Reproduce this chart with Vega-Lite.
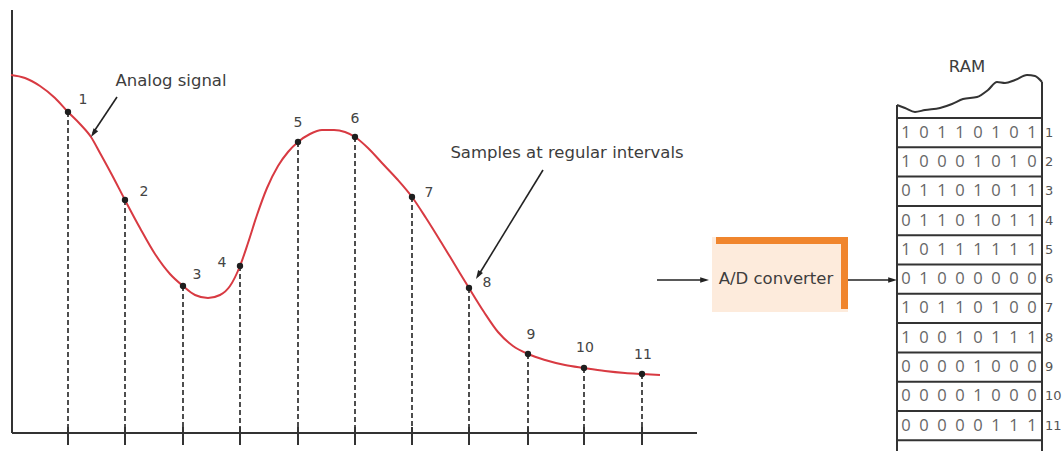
{
  "$schema": "https://vega.github.io/schema/vega-lite/v6.json",
  "width": 1063,
  "height": 451,
  "padding": 0,
  "autosize": {"type": "none"},
  "background": "white",
  "config": {"view": {"stroke": null}},
  "datasets": {
    "curve": [
      {"x":11,"y":75},{"x":25,"y":78},{"x":40,"y":86},{"x":55,"y":98},{"x":68,"y":112},{"x":80,"y":124},{"x":91,"y":137},{"x":100,"y":153},{"x":112,"y":175},{"x":125,"y":200},{"x":140,"y":228},{"x":155,"y":254},{"x":170,"y":274},{"x":183,"y":286},{"x":195,"y":295},{"x":208,"y":298},{"x":220,"y":295},{"x":230,"y":286},{"x":240,"y":266},{"x":248,"y":243},{"x":257,"y":215},{"x":267,"y":188},{"x":278,"y":166},{"x":288,"y":152},{"x":298,"y":142},{"x":310,"y":134},{"x":322,"y":130},{"x":334,"y":130},{"x":345,"y":132},{"x":355,"y":137},{"x":368,"y":148},{"x":382,"y":163},{"x":397,"y":179},{"x":412,"y":197},{"x":426,"y":218},{"x":441,"y":242},{"x":455,"y":265},{"x":469,"y":288},{"x":484,"y":312},{"x":498,"y":332},{"x":513,"y":346},{"x":528,"y":354},{"x":545,"y":360},{"x":565,"y":365},{"x":584,"y":368},{"x":605,"y":371},{"x":625,"y":373},{"x":642,"y":374},{"x":660,"y":375}
    ],
    "samples": [
      {"n":1,"x":68,"y":112},{"n":2,"x":125,"y":200},{"n":3,"x":183,"y":286},{"n":4,"x":240,"y":266},{"n":5,"x":298,"y":142},{"n":6,"x":355,"y":137},{"n":7,"x":412,"y":197},{"n":8,"x":469,"y":288},{"n":9,"x":528,"y":354},{"n":10,"x":584,"y":368},{"n":11,"x":642,"y":374}
    ],
    "sampleLabels": [
      {"t":"1","x":83,"y":100},{"t":"2","x":144,"y":192},{"t":"3","x":197,"y":275},{"t":"4","x":222,"y":263},{"t":"5","x":298,"y":123},{"t":"6","x":355,"y":119},{"t":"7","x":429,"y":193},{"t":"8","x":487,"y":283},{"t":"9","x":531,"y":335},{"t":"10","x":585,"y":348},{"t":"11","x":643,"y":355}
    ],
    "axes": [
      {"x":12,"y":10,"x2":12,"y2":433},
      {"x":12,"y":433,"x2":697,"y2":433}
    ],
    "shafts": [
      {"x":117,"y":97,"x2":93,"y2":133},
      {"x":543,"y":170,"x2":478,"y2":276},
      {"x":657,"y":280,"x2":704,"y2":280},
      {"x":848,"y":280,"x2":892,"y2":280}
    ],
    "heads": [
      {"x":91,"y":137,"a":213.7},
      {"x":476,"y":279,"a":211},
      {"x":709,"y":280,"a":90},
      {"x":897,"y":280,"a":90}
    ],
    "notes": [
      {"t":"Analog signal","x":171,"y":81},
      {"t":"Samples at regular intervals","x":567,"y":153},
      {"t":"A/D converter","x":776,"y":279},
      {"t":"RAM","x":967,"y":67}
    ],
    "box": [{"x":712,"x2":848,"y":237,"y2":312}],
    "bands": [
      {"x":716,"x2":848,"y":237,"y2":244},
      {"x":841,"x2":848,"y":237,"y2":309}
    ],
    "ramTop": [
      {"x":897,"y":105},{"x":905,"y":108},{"x":915,"y":112},{"x":925,"y":110},{"x":940,"y":108},{"x":952,"y":104},{"x":963,"y":99},{"x":977,"y":97},{"x":988,"y":90},{"x":997,"y":82},{"x":1005,"y":83},{"x":1015,"y":80},{"x":1027,"y":75},{"x":1035,"y":76},{"x":1042,"y":82}
    ],
    "ramSides": [
      {"x":897,"y":105,"x2":897,"y2":451},
      {"x":1042,"y":82,"x2":1042,"y2":451}
    ],
    "ramLines": [
      {"y":118},{"y":147.3},{"y":176.6},{"y":205.9},{"y":235.2},{"y":264.5},{"y":293.8},{"y":323.1},{"y":352.4},{"y":381.7},{"y":411},{"y":440.3}
    ],
    "ram": [
      {"n":"1","bits":"1\u00a0\u00a00\u00a0\u00a01\u00a0\u00a01\u00a0\u00a00\u00a0\u00a01\u00a0\u00a00\u00a0\u00a01","y":132.65},
      {"n":"2","bits":"1\u00a0\u00a00\u00a0\u00a00\u00a0\u00a00\u00a0\u00a01\u00a0\u00a00\u00a0\u00a01\u00a0\u00a00","y":161.95},
      {"n":"3","bits":"0\u00a0\u00a01\u00a0\u00a01\u00a0\u00a00\u00a0\u00a01\u00a0\u00a00\u00a0\u00a01\u00a0\u00a01","y":191.25},
      {"n":"4","bits":"0\u00a0\u00a01\u00a0\u00a01\u00a0\u00a00\u00a0\u00a01\u00a0\u00a00\u00a0\u00a01\u00a0\u00a01","y":220.55},
      {"n":"5","bits":"1\u00a0\u00a00\u00a0\u00a01\u00a0\u00a01\u00a0\u00a01\u00a0\u00a01\u00a0\u00a01\u00a0\u00a01","y":249.85},
      {"n":"6","bits":"0\u00a0\u00a01\u00a0\u00a00\u00a0\u00a00\u00a0\u00a00\u00a0\u00a00\u00a0\u00a00\u00a0\u00a00","y":279.15},
      {"n":"7","bits":"1\u00a0\u00a00\u00a0\u00a01\u00a0\u00a01\u00a0\u00a00\u00a0\u00a01\u00a0\u00a00\u00a0\u00a00","y":308.45},
      {"n":"8","bits":"1\u00a0\u00a00\u00a0\u00a00\u00a0\u00a01\u00a0\u00a00\u00a0\u00a01\u00a0\u00a01\u00a0\u00a01","y":337.75},
      {"n":"9","bits":"0\u00a0\u00a00\u00a0\u00a00\u00a0\u00a00\u00a0\u00a01\u00a0\u00a00\u00a0\u00a00\u00a0\u00a00","y":367.05},
      {"n":"10","bits":"0\u00a0\u00a00\u00a0\u00a00\u00a0\u00a00\u00a0\u00a01\u00a0\u00a00\u00a0\u00a00\u00a0\u00a00","y":396.35},
      {"n":"11","bits":"0\u00a0\u00a00\u00a0\u00a00\u00a0\u00a00\u00a0\u00a00\u00a0\u00a01\u00a0\u00a01\u00a0\u00a01","y":425.65}
    ]
  },
  "layer": [
    {
      "data": {"name": "box"},
      "mark": {"type": "rect", "fill": "#FDEBDC"},
      "encoding": {
        "x": {"field": "x", "type": "quantitative", "scale": {"domain": [0, 1063], "nice": false, "zero": false}, "axis": null},
        "x2": {"field": "x2"},
        "y": {"field": "y", "type": "quantitative", "scale": {"domain": [0, 451], "nice": false, "zero": false, "reverse": true}, "axis": null},
        "y2": {"field": "y2"}
      }
    },
    {
      "data": {"name": "bands"},
      "mark": {"type": "rect", "fill": "#F0852D"},
      "encoding": {
        "x": {"field": "x", "type": "quantitative", "scale": {"domain": [0, 1063], "nice": false, "zero": false}, "axis": null},
        "x2": {"field": "x2"},
        "y": {"field": "y", "type": "quantitative", "scale": {"domain": [0, 451], "nice": false, "zero": false, "reverse": true}, "axis": null},
        "y2": {"field": "y2"}
      }
    },
    {
      "data": {"name": "samples"},
      "mark": {"type": "rule", "color": "#222", "strokeWidth": 1.6, "strokeDash": [5, 3]},
      "encoding": {
        "x": {"field": "x", "type": "quantitative", "scale": {"domain": [0, 1063], "nice": false, "zero": false}, "axis": null},
        "y": {"field": "y", "type": "quantitative", "scale": {"domain": [0, 451], "nice": false, "zero": false, "reverse": true}, "axis": null},
        "y2": {"datum": 433}
      }
    },
    {
      "data": {"name": "samples"},
      "mark": {"type": "rule", "color": "#333", "strokeWidth": 2},
      "encoding": {
        "x": {"field": "x", "type": "quantitative", "scale": {"domain": [0, 1063], "nice": false, "zero": false}, "axis": null},
        "y": {"datum": 427, "type": "quantitative", "scale": {"domain": [0, 451], "nice": false, "zero": false, "reverse": true}, "axis": null},
        "y2": {"datum": 445}
      }
    },
    {
      "data": {"name": "axes"},
      "mark": {"type": "rule", "color": "#333", "strokeWidth": 2},
      "encoding": {
        "x": {"field": "x", "type": "quantitative", "scale": {"domain": [0, 1063], "nice": false, "zero": false}, "axis": null},
        "x2": {"field": "x2"},
        "y": {"field": "y", "type": "quantitative", "scale": {"domain": [0, 451], "nice": false, "zero": false, "reverse": true}, "axis": null},
        "y2": {"field": "y2"}
      }
    },
    {
      "data": {"name": "curve"},
      "mark": {"type": "line", "color": "#D83A42", "strokeWidth": 2, "interpolate": "monotone"},
      "encoding": {
        "x": {"field": "x", "type": "quantitative", "scale": {"domain": [0, 1063], "nice": false, "zero": false}, "axis": null},
        "y": {"field": "y", "type": "quantitative", "scale": {"domain": [0, 451], "nice": false, "zero": false, "reverse": true}, "axis": null}
      }
    },
    {
      "data": {"name": "samples"},
      "mark": {"type": "circle", "color": "#1e1e1e", "opacity": 1, "size": 40},
      "encoding": {
        "x": {"field": "x", "type": "quantitative", "scale": {"domain": [0, 1063], "nice": false, "zero": false}, "axis": null},
        "y": {"field": "y", "type": "quantitative", "scale": {"domain": [0, 451], "nice": false, "zero": false, "reverse": true}, "axis": null}
      }
    },
    {
      "data": {"name": "sampleLabels"},
      "mark": {"type": "text", "font": "DejaVu Sans", "fontSize": 14, "color": "#444", "align": "center", "baseline": "middle"},
      "encoding": {
        "x": {"field": "x", "type": "quantitative", "scale": {"domain": [0, 1063], "nice": false, "zero": false}, "axis": null},
        "y": {"field": "y", "type": "quantitative", "scale": {"domain": [0, 451], "nice": false, "zero": false, "reverse": true}, "axis": null},
        "text": {"field": "t"}
      }
    },
    {
      "data": {"name": "notes"},
      "mark": {"type": "text", "font": "DejaVu Sans", "fontSize": 16.5, "color": "#3d3d3d", "align": "center", "baseline": "middle"},
      "encoding": {
        "x": {"field": "x", "type": "quantitative", "scale": {"domain": [0, 1063], "nice": false, "zero": false}, "axis": null},
        "y": {"field": "y", "type": "quantitative", "scale": {"domain": [0, 451], "nice": false, "zero": false, "reverse": true}, "axis": null},
        "text": {"field": "t"}
      }
    },
    {
      "data": {"name": "shafts"},
      "mark": {"type": "rule", "color": "#222", "strokeWidth": 1.6},
      "encoding": {
        "x": {"field": "x", "type": "quantitative", "scale": {"domain": [0, 1063], "nice": false, "zero": false}, "axis": null},
        "x2": {"field": "x2"},
        "y": {"field": "y", "type": "quantitative", "scale": {"domain": [0, 451], "nice": false, "zero": false, "reverse": true}, "axis": null},
        "y2": {"field": "y2"}
      }
    },
    {
      "data": {"name": "heads"},
      "mark": {"type": "point", "shape": "M0,0L-0.7,2.2L0.7,2.2Z", "filled": true, "color": "#222", "opacity": 1, "size": 64},
      "encoding": {
        "x": {"field": "x", "type": "quantitative", "scale": {"domain": [0, 1063], "nice": false, "zero": false}, "axis": null},
        "y": {"field": "y", "type": "quantitative", "scale": {"domain": [0, 451], "nice": false, "zero": false, "reverse": true}, "axis": null},
        "angle": {"field": "a", "type": "quantitative", "scale": null}
      }
    },
    {
      "data": {"name": "ramTop"},
      "mark": {"type": "line", "color": "#333", "strokeWidth": 2, "interpolate": "monotone"},
      "encoding": {
        "x": {"field": "x", "type": "quantitative", "scale": {"domain": [0, 1063], "nice": false, "zero": false}, "axis": null},
        "y": {"field": "y", "type": "quantitative", "scale": {"domain": [0, 451], "nice": false, "zero": false, "reverse": true}, "axis": null}
      }
    },
    {
      "data": {"name": "ramSides"},
      "mark": {"type": "rule", "color": "#333", "strokeWidth": 2},
      "encoding": {
        "x": {"field": "x", "type": "quantitative", "scale": {"domain": [0, 1063], "nice": false, "zero": false}, "axis": null},
        "x2": {"field": "x2"},
        "y": {"field": "y", "type": "quantitative", "scale": {"domain": [0, 451], "nice": false, "zero": false, "reverse": true}, "axis": null},
        "y2": {"field": "y2"}
      }
    },
    {
      "data": {"name": "ramLines"},
      "mark": {"type": "rule", "color": "#333", "strokeWidth": 2},
      "encoding": {
        "x": {"datum": 897, "type": "quantitative", "scale": {"domain": [0, 1063], "nice": false, "zero": false}, "axis": null},
        "x2": {"datum": 1042},
        "y": {"field": "y", "type": "quantitative", "scale": {"domain": [0, 451], "nice": false, "zero": false, "reverse": true}, "axis": null}
      }
    },
    {
      "data": {"name": "ram"},
      "mark": {"type": "text", "font": "Open Sans", "fontSize": 16.5, "color": "#666", "align": "center", "baseline": "middle"},
      "encoding": {
        "x": {"datum": 969, "type": "quantitative", "scale": {"domain": [0, 1063], "nice": false, "zero": false}, "axis": null},
        "y": {"field": "y", "type": "quantitative", "scale": {"domain": [0, 451], "nice": false, "zero": false, "reverse": true}, "axis": null},
        "text": {"field": "bits"}
      }
    },
    {
      "data": {"name": "ram"},
      "mark": {"type": "text", "font": "DejaVu Sans", "fontSize": 13, "color": "#555", "align": "left", "baseline": "middle"},
      "encoding": {
        "x": {"datum": 1045, "type": "quantitative", "scale": {"domain": [0, 1063], "nice": false, "zero": false}, "axis": null},
        "y": {"field": "y", "type": "quantitative", "scale": {"domain": [0, 451], "nice": false, "zero": false, "reverse": true}, "axis": null},
        "text": {"field": "n"}
      }
    }
  ]
}
